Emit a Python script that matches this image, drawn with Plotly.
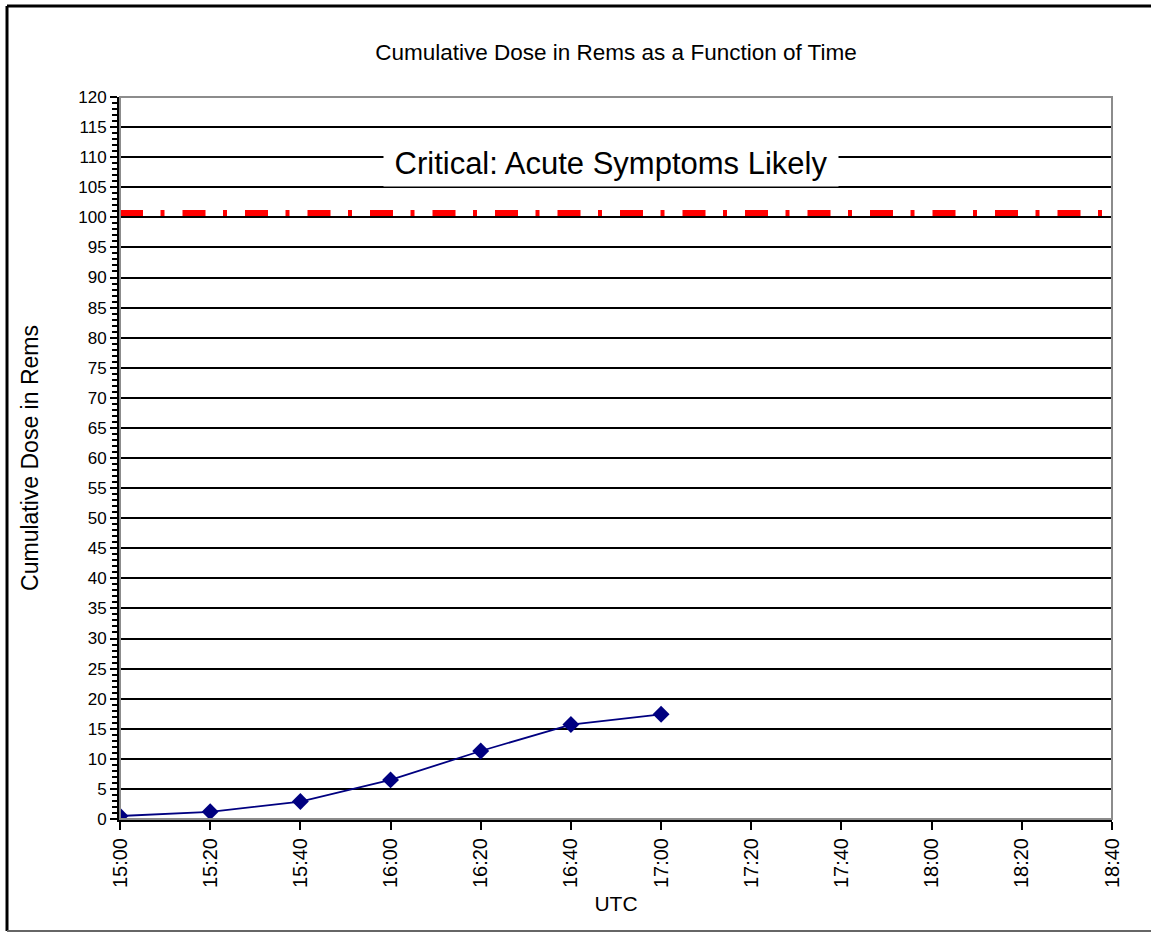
import pandas as pd
import plotly.graph_objects as go

# readings of cumulative dose
times = ["15:00", "15:20", "15:40", "16:00", "16:20", "16:40", "17:00"]
dose = [0.5, 1.2, 2.9, 6.5, 11.3, 15.7, 17.4]

# critical threshold line
threshold_times = ["15:00", "18:40"]
threshold_dose = [100.7, 100.7]

title = "Cumulative Dose in Rems as a Function of Time"
y_title = "Cumulative Dose in Rems"
x_title = "UTC"
critical_label = "Critical: Acute Symptoms Likely"


def to_dt(hhmm):
    return pd.to_datetime(["2000-01-01 " + t for t in hhmm])


FONT = "Liberation Sans, Arial, sans-serif"

fig = go.Figure()

fig.add_trace(
    go.Scatter(
        x=to_dt(threshold_times),
        y=threshold_dose,
        mode="lines",
        line=dict(color="#ff0000", width=6, dash="23px,17.5px,4px,18px"),
        hoverinfo="skip",
    )
)

fig.add_trace(
    go.Scatter(
        x=to_dt(times),
        y=dose,
        mode="lines+markers",
        line=dict(color="#000080", width=1.8),
        marker=dict(symbol="diamond", size=13, color="#000080"),
    )
)

fig.add_annotation(
    x=to_dt(["16:49"])[0],
    y=109.1,
    text=critical_label,
    showarrow=False,
    font=dict(family=FONT, size=31, color="black"),
    bgcolor="white",
    width=454,
    height=46,
    borderpad=0,
)

# plot area border (top / right in gray)
fig.add_shape(
    type="rect", xref="paper", yref="paper", x0=0, x1=1, y0=0, y1=1,
    line=dict(color="#8c8c8c", width=2),
)
# outer chart frame
fig.add_shape(type="line", xref="paper", yref="paper",
              x0=-0.1139, x1=-0.1139, y0=-0.155, y1=1.126,
              line=dict(color="black", width=3))
fig.add_shape(type="line", xref="paper", yref="paper",
              x0=-0.1139, x1=1.05, y0=1.126, y1=1.126,
              line=dict(color="black", width=3))
fig.add_shape(type="line", xref="paper", yref="paper",
              x0=-0.1139, x1=1.05, y0=-0.155, y1=-0.155,
              line=dict(color="#666666", width=2))

fig.update_layout(
    width=1151,
    height=933,
    margin=dict(l=120, r=39, t=97, b=114),
    paper_bgcolor="white",
    plot_bgcolor="white",
    showlegend=False,
    font=dict(family=FONT, size=17, color="black"),
    title=dict(
        text=title,
        x=0.5,
        xanchor="center",
        xref="paper",
        y=0.944,
        yanchor="middle",
        font=dict(family=FONT, size=22.5, color="black"),
    ),
)

fig.update_xaxes(
    type="date",
    range=[pd.Timestamp("2000-01-01 15:00"), pd.Timestamp("2000-01-01 18:40")],
    dtick=20 * 60 * 1000,
    tick0=pd.Timestamp("2000-01-01 15:00"),
    tickformat="%H:%M",
    tickangle=-90,
    tickfont=dict(family=FONT, size=20, color="black"),
    ticks="outside",
    ticklen=8,
    tickwidth=2,
    tickcolor="black",
    showgrid=False,
    showline=True,
    linecolor="black",
    linewidth=3,
    zeroline=False,
    title=dict(text=x_title, font=dict(family=FONT, size=21, color="black"), standoff=10),
)

fig.update_yaxes(
    range=[0, 120],
    dtick=5,
    tickfont=dict(family=FONT, size=17, color="black"),
    ticks="outside",
    ticklen=7,
    tickwidth=2,
    tickcolor="black",
    showgrid=True,
    gridcolor="black",
    gridwidth=1.5,
    showline=True,
    linecolor="black",
    linewidth=3,
    zeroline=False,
    minor=dict(dtick=1, ticks="outside", ticklen=5, tickwidth=1.5, tickcolor="black", showgrid=False),
    title=dict(text=y_title, font=dict(family=FONT, size=23, color="black"), standoff=34),
)

# drop the default 8px body margin so the figure fills the window exactly
fig.write_html(
    "out.html",
    config={"displayModeBar": False},
    post_script="document.body.style.margin='0';",
)
